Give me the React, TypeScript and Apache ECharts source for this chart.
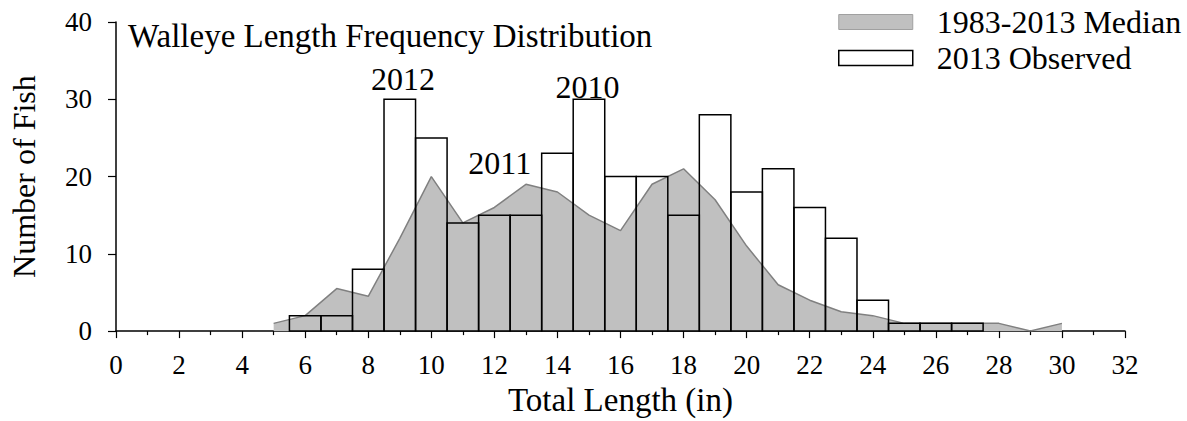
import React, { useEffect, useRef } from "react";
import * as echarts from "echarts";

// Observed 2013 catch: length bin centre (in) and count
const observedLengths = [6, 7, 8, 9, 10, 11, 12, 13, 14, 15, 16, 17, 18, 19, 20, 21, 22, 23, 24, 25, 26, 27];
const observedCounts = [2, 2, 8, 30, 25, 14, 15, 15, 23, 30, 20, 20, 15, 28, 18, 21, 16, 12, 4, 1, 1, 1];

// 1983-2013 median distribution
const medianLengths = [5, 6, 7, 8, 9, 10, 11, 12, 13, 14, 15, 16, 17, 18, 19, 20, 21, 22, 23, 24, 25, 26, 27, 28, 29, 30];
const medianCounts = [1, 2, 5.5, 4.5, 12, 20, 14, 16, 19, 18, 15, 13, 19, 21, 17, 11, 6, 4, 2.5, 2, 1, 1, 1, 1, 0, 1];

// Year-class annotations
const yearLabels = ["2012", "2010", "2011"];
const yearLabelX = [9.1, 14.95, 12.17];
const yearLabelY = [32.6, 31.6, 21.8];

const xTicksMin = 0;
const xTicksMax = 32;
const yTicksMin = 0;
const yTicksMax = 40;

const FONT = "Liberation Serif";

export default function App() {
  const ref = useRef<HTMLDivElement>(null);
  useEffect(() => {
    document.body.style.margin = "0";
    const chart = echarts.init(ref.current!, null, { renderer: "svg" });
    const observedData = observedLengths.map((x, i) => [x, observedCounts[i]]);
    const medianData = medianLengths.map((x, i) => [x, medianCounts[i]]);
    chart.setOption({
      animation: false,
      textStyle: { fontFamily: FONT, color: "#000" },
      title: {
        text: "Walleye Length Frequency Distribution",
        left: 128,
        top: 19,
        padding: 0,
        textStyle: { fontFamily: FONT, fontSize: 33, fontWeight: "normal", color: "#000" },
      },
      legend: {
        orient: "vertical",
        left: 838,
        top: 6,
        itemWidth: 74,
        itemHeight: 15,
        itemGap: 4,
        padding: 0,
        textStyle: { fontFamily: FONT, fontSize: 32, color: "#000", padding: [0, 0, 0, 19] },
        data: [
          { name: "1983-2013 Median", icon: "rect", itemStyle: { color: "#c0c0c0", borderColor: "#a0a0a0", borderWidth: 1 } },
          { name: "2013 Observed", icon: "rect", itemStyle: { color: "#ffffff", borderColor: "#000", borderWidth: 1.5 } },
        ],
      },
      grid: { left: 114, right: 62, top: 22, bottom: 86, containLabel: false },
      xAxis: {
        type: "value",
        min: xTicksMin,
        max: xTicksMax,
        interval: 2,
        name: "Total Length (in)",
        nameLocation: "middle",
        nameGap: 51,
        nameTextStyle: { fontFamily: FONT, fontSize: 33, color: "#000" },
        axisLine: { lineStyle: { color: "#000", width: 1.5 } },
        axisTick: { show: true, length: 7, lineStyle: { color: "#000", width: 1.2 } },
        minorTick: { show: true, splitNumber: 2, length: 4, lineStyle: { color: "#000", width: 1.2 } },
        axisLabel: { fontFamily: FONT, fontSize: 27, color: "#000", margin: 20 },
        splitLine: { show: false },
      },
      yAxis: {
        type: "value",
        min: yTicksMin,
        max: yTicksMax,
        interval: 10,
        name: "Number of Fish",
        nameLocation: "middle",
        nameGap: 76,
        nameTextStyle: { fontFamily: FONT, fontSize: 32, color: "#000" },
        axisLine: { show: true, lineStyle: { color: "#000", width: 1.5 } },
        axisTick: { show: true, length: 8, lineStyle: { color: "#000", width: 1.2 } },
        axisLabel: { fontFamily: FONT, fontSize: 27, color: "#000", margin: 24 },
        splitLine: { show: false },
      },
      series: [
        {
          name: "1983-2013 Median",
          type: "line",
          data: medianData,
          symbol: "none",
          z: 1,
          color: "#c0c0c0",
          lineStyle: { color: "#808080", width: 1.5 },
          areaStyle: { color: "#c0c0c0", opacity: 1 },
          markPoint: {
            symbol: "circle",
            symbolSize: 0,
            label: {
              show: true,
              position: "inside",
              fontFamily: FONT,
              fontSize: 32,
              color: "#000",
              formatter: (p: any) => p.name,
            },
            data: yearLabels.map((t, i) => ({ name: t, coord: [yearLabelX[i], yearLabelY[i]] })),
          },
        },
        {
          name: "2013 Observed",
          type: "custom",
          data: observedData,
          z: 3,
          itemStyle: { color: "#ffffff", borderColor: "#000", borderWidth: 1.5 },
          encode: { x: 0, y: 1 },
          renderItem: (params: any, api: any) => {
            const x = api.value(0);
            const y = api.value(1);
            const p0 = api.coord([x - 0.5, y]);
            const p1 = api.coord([x + 0.5, 0]);
            return {
              type: "rect",
              shape: { x: p0[0], y: p0[1], width: p1[0] - p0[0], height: p1[1] - p0[1] },
              style: { fill: "none", stroke: "#000", lineWidth: 1.5 },
            };
          },
        },
      ],
    });
    return () => chart.dispose();
  }, []);
  return <div ref={ref} style={{ width: 1187, height: 421 }} />;
}
